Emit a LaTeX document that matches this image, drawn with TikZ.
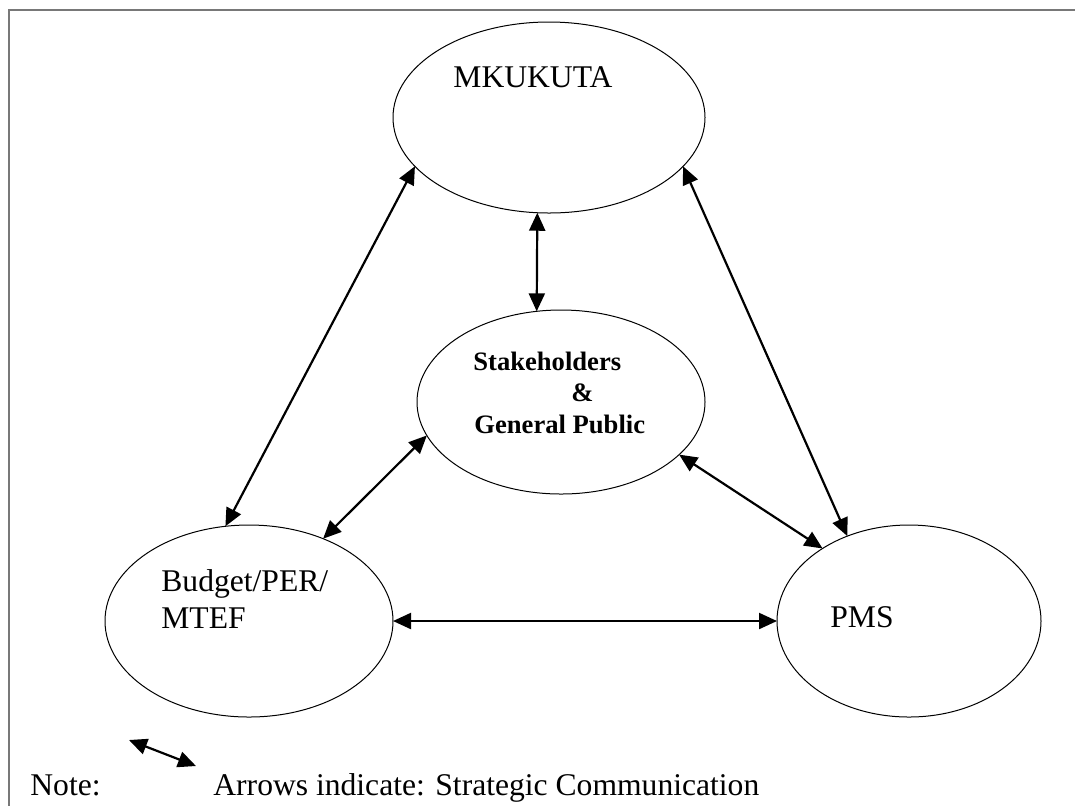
\documentclass[tikz,border=0pt]{standalone}
\usepackage{fontspec}
\setmainfont{Liberation Serif}
\usetikzlibrary{shapes.geometric,arrows.meta}

\tikzset{
  blob/.style={ellipse, draw, line width=0.5pt, outer sep=0pt, inner sep=0pt},
  lbl/.style={anchor=base west, inner sep=0pt, font=\fontsize{15.8}{18}\selectfont},
  boldlbl/.style={anchor=base west, inner sep=0pt, font=\fontsize{13.3}{16}\selectfont\bfseries},
  link/.style={line width=1.1pt, {Triangle[length=9pt,width=8pt]}-{Triangle[length=9pt,width=8pt]}},
  frame/.style={line width=1pt, draw=framegray}
}

\begin{document}
\begin{tikzpicture}[x=0.5pt,y=-0.5pt]

% Colors
\definecolor{framegray}{RGB}{120,120,120}

\useasboundingbox (0,0) rectangle (1075,805);

% Frame (only top and left edges show)
\draw[frame] (8.5,810) -- (8.5,9.5) -- (1080,9.5);

% Ellipses
\node[blob, minimum width=156pt, minimum height=95.5pt] (mkukuta) at (549,117.5) {};
\node[blob, minimum width=144pt, minimum height=92pt] (stake) at (561,402) {};
\node[blob, minimum width=144pt, minimum height=96pt] (budget) at (249,621) {};
\node[blob, minimum width=132pt, minimum height=96pt] (pms) at (909,621) {};

% Labels
\node[lbl] (mkukutatxt) at (453,87) {MKUKUTA};
\node[boldlbl] (staketxt) at (473,370) {Stakeholders};
\node[boldlbl] (amptxt) at (571,401) {\&};
\node[boldlbl] (publictxt) at (474,433) {General Public};
\node[lbl] (budgettxt) at (161,591) {Budget/PER/};
\node[lbl] (mteftxt) at (161,628) {MTEF};
\node[lbl] (pmstxt) at (830,627) {PMS};

% Strategic communication links
\draw[link] (mkukuta.263) -- (stake.105);
\draw[link] (mkukuta.200) -- (budget.104);
\draw[link] (mkukuta.340) -- (pms.126);
\draw[link] (stake.194) -- (budget.48);
\draw[link] (stake.336) -- (pms.140);
\draw[link] (budget.east) -- (pms.west);

% Note
\coordinate (legA) at (129,740);
\coordinate (legB) at (196,766);
\draw[link] (legA) -- (legB);
\node[lbl] (notetxt) at (30,795) {Note:};
\node[lbl] (arrowstxt) at (213,795) {Arrows indicate: Strategic Communication};
\end{tikzpicture}
\end{document}
